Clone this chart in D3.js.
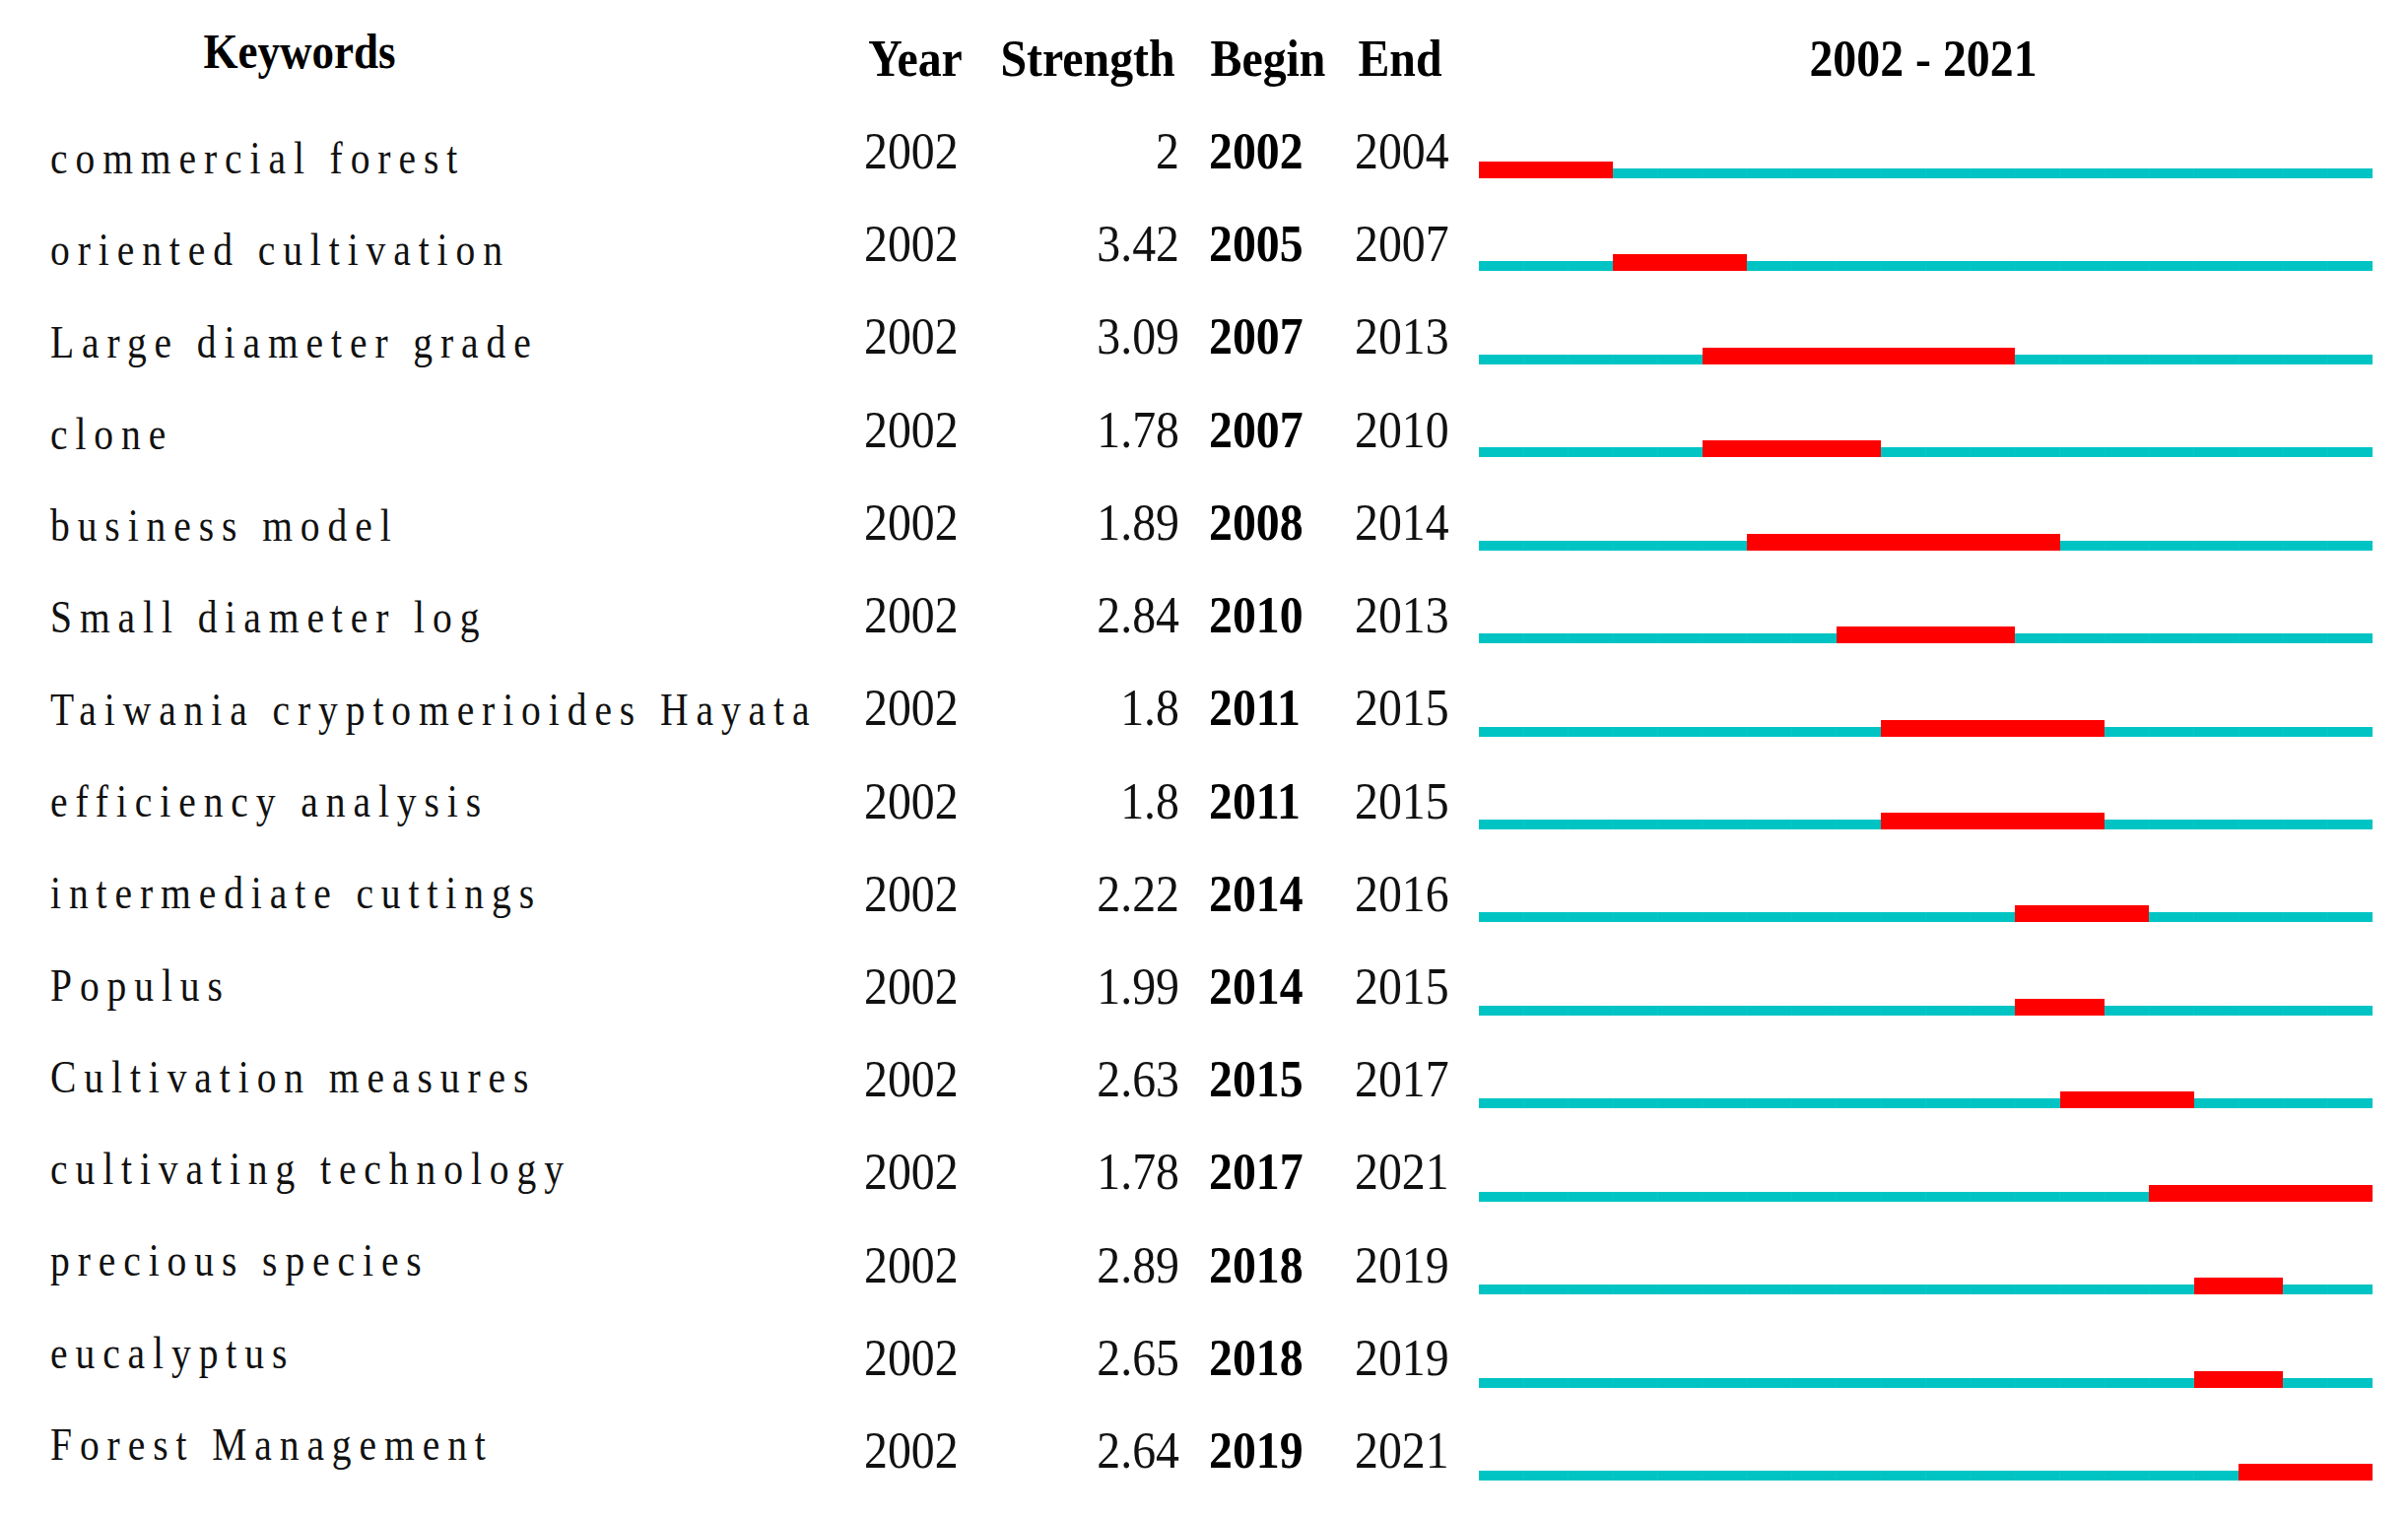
<!DOCTYPE html>
<html>
<head>
<meta charset="utf-8">
<script src="https://cdn.jsdelivr.net/npm/d3@7"></script>
<style>
  html, body { margin: 0; padding: 0; background: #fff; }
  svg { display: block; }
</style>
</head>
<body>
<svg id="chart" width="2444" height="1538"></svg>
<script>
const keywords = ["commercial forest", "oriented cultivation", "Large diameter grade", "clone",
  "business model", "Small diameter log", "Taiwania cryptomerioides Hayata", "efficiency analysis",
  "intermediate cuttings", "Populus", "Cultivation measures", "cultivating technology",
  "precious species", "eucalyptus", "Forest Management"];
const years = [2002, 2002, 2002, 2002, 2002, 2002, 2002, 2002, 2002, 2002, 2002, 2002, 2002, 2002, 2002];
const strengths = ["2", "3.42", "3.09", "1.78", "1.89", "2.84", "1.8", "1.8", "2.22", "1.99", "2.63", "1.78", "2.89", "2.65", "2.64"];
const begins = [2002, 2005, 2007, 2007, 2008, 2010, 2011, 2011, 2014, 2014, 2015, 2017, 2018, 2018, 2019];
const ends = [2004, 2007, 2013, 2010, 2014, 2013, 2015, 2015, 2016, 2015, 2017, 2021, 2019, 2019, 2021];
const headers = ["Keywords", "Year", "Strength", "Begin", "End"];
const rangeStart = 2002, rangeEnd = 2021;
const rangeLabel = rangeStart + " - " + rangeEnd;

const svg = d3.select("#chart");
const serif = "'Liberation Serif', 'Times New Roman', serif";

const rows = d3.range(keywords.length);
// row positions
const yBar = d3.scalePoint().domain(rows).range([181, 1503]);   // bar bottom
const yKw = d3.scalePoint().domain(rows).range([176, 1482]);    // keyword baseline
const yNum = d3.scalePoint().domain(rows).range([171, 1490]);   // number baseline
const x = d3.scaleLinear().domain([rangeStart, rangeEnd + 1]).range([1501, 2408]);
const allYears = d3.range(rangeStart, rangeEnd + 1);

// headers
svg.append("text").attr("transform", "translate(304,69) scale(0.9,1)").attr("text-anchor", "middle")
  .attr("font-family", serif).attr("font-weight", "bold").attr("font-size", 50)
  .attr("fill", "#000").text(headers[0]);
const hcols = [
  {t: headers[1], x: 929},
  {t: headers[2], x: 1104},
  {t: headers[3], x: 1287},
  {t: headers[4], x: 1421},
  {t: rangeLabel, x: 1952}
];
svg.selectAll("text.hdr").data(hcols).enter().append("text").attr("class", "hdr")
  .attr("transform", d => `translate(${d.x},77) scale(0.92,1)`).attr("text-anchor", "middle")
  .attr("font-family", serif).attr("font-weight", "bold").attr("font-size", 52)
  .attr("fill", "#000").text(d => d.t);

// keyword labels (condensed glyphs, wide tracking)
svg.selectAll("text.kw").data(rows).enter().append("text").attr("class", "kw")
  .attr("transform", i => `translate(51,${yKw(i)}) scale(0.86,1)`)
  .attr("font-family", serif).attr("font-size", 46)
  .attr("letter-spacing", 9.2)
  .attr("fill", "#111").text(i => keywords[i]);

const numText = (cls, xPos, anchor, weight, accessor) =>
  svg.selectAll("text." + cls).data(rows).enter().append("text").attr("class", cls)
    .attr("transform", i => `translate(${xPos},${yNum(i)}) scale(0.92,1)`)
    .attr("text-anchor", anchor)
    .attr("font-family", serif).attr("font-weight", weight).attr("font-size", 52)
    .attr("fill", weight === "bold" ? "#000" : "#111")
    .text(accessor);
numText("yr", 877, "start", "normal", i => years[i]);
numText("st", 1197, "end", "normal", i => strengths[i]);
numText("bg", 1227, "start", "bold", i => begins[i]);
numText("en", 1375, "start", "normal", i => ends[i]);

// bars: one cell per year
const teal = "#00C4C4", red = "#FF0000";
const cells = [];
rows.forEach(i => allYears.forEach(yr => {
  cells.push({row: i, year: yr, burst: yr >= begins[i] && yr <= ends[i]});
}));
svg.selectAll("rect.cell").data(cells).enter().append("rect").attr("class", "cell")
  .attr("x", d => x(d.year)).attr("width", d => x(d.year + 1) - x(d.year))
  .attr("y", d => yBar(d.row) - (d.burst ? 17 : 10))
  .attr("height", d => d.burst ? 17 : 10)
  .attr("fill", d => d.burst ? red : teal)
  .attr("shape-rendering", "crispEdges");
// very faint separators between teal year cells
svg.selectAll("line.sep").data(cells.filter(d => d.year > rangeStart && !d.burst)).enter().append("line")
  .attr("class", "sep")
  .attr("x1", d => x(d.year)).attr("x2", d => x(d.year))
  .attr("y1", d => yBar(d.row) - 10).attr("y2", d => yBar(d.row))
  .attr("stroke", "rgba(255,255,255,0.05)").attr("stroke-width", 1);
</script>
</body>
</html>
